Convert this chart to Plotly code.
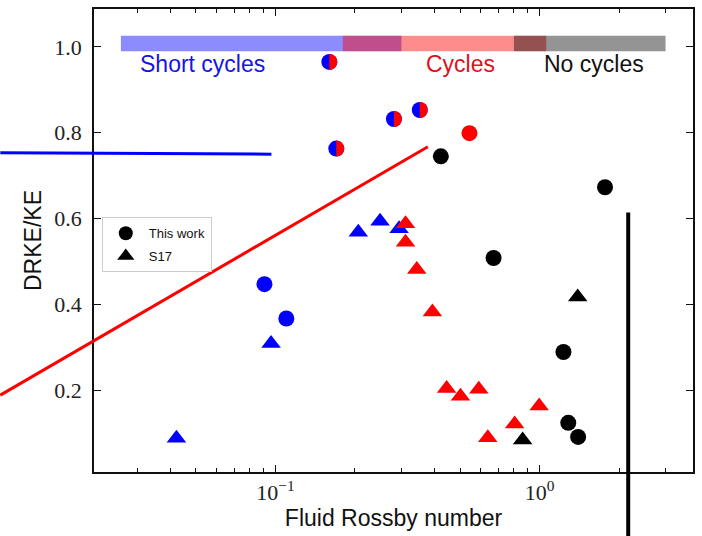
import math
import plotly.graph_objects as go

# ---- data -------------------------------------------------------------
# "This work" (circles)
tw_blue_x = [0.0909, 0.110]
tw_blue_y = [0.447, 0.367]
tw_half_x = [0.160, 0.170, 0.281, 0.352]          # short cycles + cycles
tw_half_y = [0.965, 0.763, 0.832, 0.853]
tw_red_x = [0.543]
tw_red_y = [0.799]
tw_black_x = [0.423, 0.670, 1.77, 1.232, 1.285, 1.40]
tw_black_y = [0.745, 0.508, 0.673, 0.289, 0.124, 0.091]

# S17 (triangles)
s17_blue_x = [0.0422, 0.0963, 0.206, 0.249, 0.294]
s17_blue_y = [0.088, 0.309, 0.568, 0.594, 0.576]
s17_red_x = [0.311, 0.311, 0.343, 0.393, 0.445, 0.502, 0.589, 0.997, 0.805, 0.637]
s17_red_y = [0.588, 0.545, 0.481, 0.382, 0.204, 0.186, 0.202, 0.163, 0.121, 0.089]
s17_black_x = [0.863, 1.395]
s17_black_y = [0.084, 0.417]

# regime bar along the top: (start, end, colour, label, label x, text colour)
regimes = [
    (0.026, 0.30, "rgba(0,0,255,0.45)", "Short cycles", 0.053, "#1515e0"),
    (0.18, 1.06, "rgba(255,0,0,0.45)", "Cycles", 0.50, "#e0101a"),
    (0.80, 3.00, "rgba(0,0,0,0.42)", "No cycles", 1.61, "#111111"),
]
band_lo, band_hi = 0.99, 1.026
label_y = 0.96

x_range = [-1.6868, 0.5811]
y_range = [0.0093, 1.0884]
y_ticks = [0.2, 0.4, 0.6, 0.8, 1.0]
x_ticks = [0.1, 1.0]
x_ticktext = ["10<sup>\u22121</sup>", "10<sup>0</sup>"]
x_minor = [0.03, 0.04, 0.05, 0.06, 0.07, 0.08, 0.09,
           0.2, 0.3, 0.4, 0.5, 0.6, 0.7, 0.8, 0.9, 2, 3]

# ---- layout geometry (pixels) ----------------------------------------
W, H = 702, 536
ML, MR, MT, MB = 94, 7, 8, 64
PW, PH = W - ML - MR, H - MT - MB


def px2paper(px, py):
    return (px - ML) / PW, (H - MB - py) / PH


# overlay strokes drawn across the figure (pixel end points)
strokes = [
    ((0, 152), (272, 153.5), "#0000ff", 3),
    ((0, 395), (429, 146), "#ff0000", 3),
    ((630, 212), (630, 540), "#000000", 4),
]

MS = 16
TS = 17
SANS = "Liberation Sans, Arial, Helvetica, sans-serif"
SERIF = "Liberation Serif, Times New Roman, serif"

fig = go.Figure()


def add(x, y, color, symbol, size):
    fig.add_trace(go.Scatter(
        x=x, y=y, mode="markers", showlegend=False, hoverinfo="skip",
        marker=dict(color=color, symbol=symbol, size=size, line=dict(width=0)),
    ))


add(s17_blue_x, s17_blue_y, "#0000ff", "triangle-up", TS)
add(s17_red_x, s17_red_y, "#ff0000", "triangle-up", TS)
add(s17_black_x, s17_black_y, "#000000", "triangle-up", TS)
add(tw_blue_x, tw_blue_y, "#0000ff", "circle", MS)
add(tw_half_x, tw_half_y, "#0000ff", "circle", MS)
add(tw_red_x, tw_red_y, "#ff0000", "circle", MS)
add(tw_black_x, tw_black_y, "#000000", "circle", MS)

# legend entries
fig.add_trace(go.Scatter(x=[None], y=[None], mode="markers", name="This work",
                         legendgroup="tw",
                         marker=dict(color="black", symbol="circle", size=14)))
fig.add_trace(go.Scatter(x=[None], y=[None], mode="markers", name="S17",
                         legendgroup="s17",
                         marker=dict(color="black", symbol="triangle-up", size=15)))

shapes = []
# regime bar
for x0, x1, col, _, _, _ in regimes:
    shapes.append(dict(type="rect", xref="x", yref="y", x0=x0, x1=x1,
                       y0=band_lo, y1=band_hi, fillcolor=col,
                       line=dict(width=0), layer="above"))

# red right half on the two-regime points
r = MS / 2
k = 0.5523 * r
half_path = (f"M0,{-r} C{k},{-r} {r},{-k} {r},0 "
             f"C{r},{k} {k},{r} 0,{r} Z")
for hx, hy in zip(tw_half_x, tw_half_y):
    shapes.append(dict(type="path", xref="x", yref="y",
                       xsizemode="pixel", ysizemode="pixel",
                       xanchor=hx, yanchor=hy, path=half_path,
                       fillcolor="#ff0000", line=dict(width=0), layer="above"))

# overlay strokes
for (ax, ay), (bx, by), col, w in strokes:
    x0, y0 = px2paper(ax, ay)
    x1, y1 = px2paper(bx, by)
    shapes.append(dict(type="line", xref="paper", yref="paper",
                       x0=x0, y0=y0, x1=x1, y1=y1,
                       line=dict(color=col, width=w), layer="above"))

annotations = []
for _, _, _, text, lx, tcol in regimes:
    annotations.append(dict(x=math.log10(lx), y=label_y, xref="x", yref="y",
                            text=text, showarrow=False,
                            xanchor="center", yanchor="middle",
                            font=dict(family=SANS, size=23, color=tcol)))

axis_common = dict(
    showline=True, linecolor="#111111", linewidth=1.5, mirror="ticks",
    ticks="inside", ticklen=7, tickwidth=1.2, tickcolor="#111111",
    showgrid=False, zeroline=False,
    tickfont=dict(family=SERIF, size=22, color="#222222"),
)

fig.update_layout(
    width=W, height=H,
    margin=dict(l=ML, r=MR, t=MT, b=MB, pad=0),
    paper_bgcolor="white", plot_bgcolor="white",
    shapes=shapes, annotations=annotations,
    xaxis=dict(type="log", range=x_range, tickvals=x_ticks, ticktext=x_ticktext,
               minor=dict(tickvals=x_minor, ticks="inside", ticklen=4,
                          tickwidth=1, tickcolor="#111111"),
               title=dict(text="Fluid Rossby number", standoff=6,
                          font=dict(family=SANS, size=23, color="#111111")),
               **axis_common),
    yaxis=dict(range=y_range, tickvals=y_ticks, tickformat=".1f",
               ticklabelstandoff=6,
               title=dict(text="DRKE/KE", standoff=6,
                          font=dict(family=SANS, size=23, color="#111111")),
               **axis_common),
    legend=dict(x=0.013, y=0.5502, xanchor="left", yanchor="top",
                bgcolor="white", bordercolor="#cccccc", borderwidth=1,
                font=dict(family=SANS, size=13, color="#111111"),
                itemwidth=36, tracegroupgap=3),
    showlegend=True,
)

fig.write_html("out.html")
